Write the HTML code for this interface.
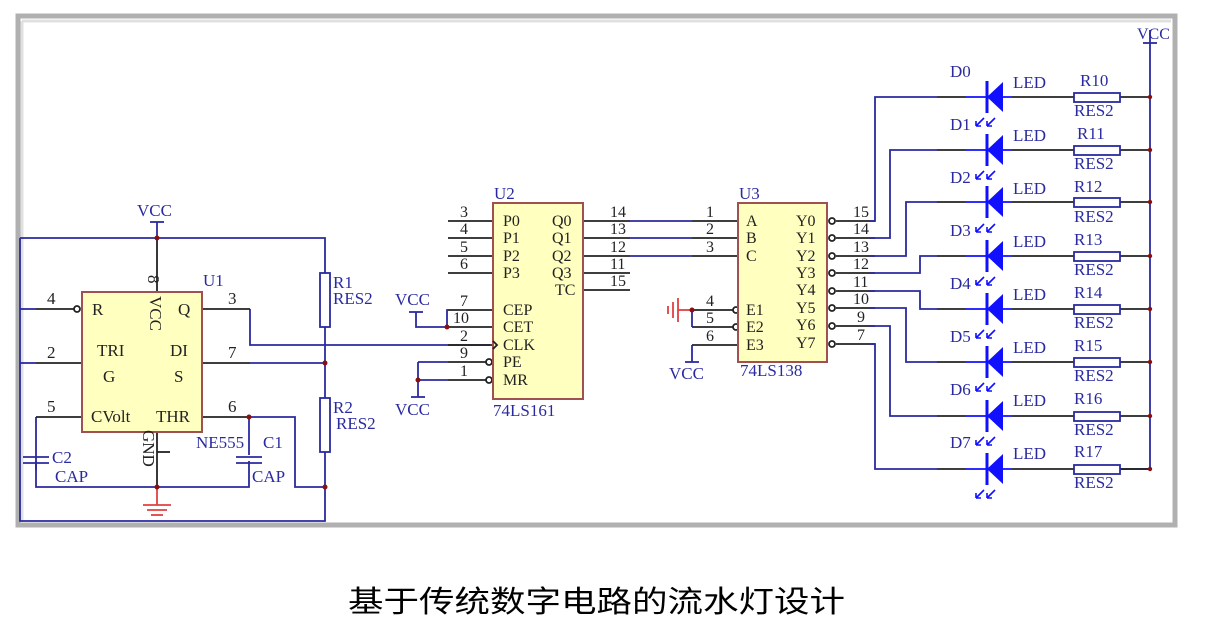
<!DOCTYPE html>
<html><head><meta charset="utf-8"><style>
html,body{margin:0;padding:0;background:#fff;width:1206px;height:644px;overflow:hidden}
svg{display:block}
text{font-family:"Liberation Serif",serif;}
.b{fill:#2a2aa0}
.k{fill:#222}
</style></head><body>
<svg width="1206" height="644" viewBox="0 0 1206 644">
<!-- frame -->
<rect x="18" y="16" width="1157" height="509" fill="#fff" stroke="#b0b0b0" stroke-width="5"/>
<line x1="22" y1="21" x2="1171" y2="21" stroke="#e0e0e0" stroke-width="3"/>
<line x1="22" y1="21" x2="22" y2="521" stroke="#e0e0e0" stroke-width="3"/>

<g fill="none" stroke-width="1.8">
<g stroke="#2a2aa0">
<polyline points="20,238 325,238 325,273"/>
<polyline points="20,238 20,521 325,521 325,452"/>
<line x1="157" y1="222" x2="157" y2="238"/>
<line x1="150" y1="222" x2="164" y2="222"/>
<line x1="20" y1="309" x2="36" y2="309"/>
<line x1="20" y1="363" x2="36" y2="363"/>
<polyline points="250,309 250,345 490,345"/>
<line x1="250" y1="363" x2="325" y2="363"/>
<polyline points="249,417 295,417 295,487 325,487"/>
<line x1="325" y1="327" x2="325" y2="398"/>
<polyline points="36,417 36,487 249,487 249,461"/>
<line x1="249" y1="417" x2="249" y2="455"/>
<line x1="36" y1="461" x2="36" y2="470"/>
<line x1="236" y1="457" x2="262" y2="457"/><line x1="236" y1="463" x2="262" y2="463"/>
<line x1="23" y1="457" x2="49" y2="457"/><line x1="23" y1="463" x2="49" y2="463"/>
</g>
<rect x="320" y="273" width="10" height="54" stroke="#2a2aa0" fill="#fff"/>
<rect x="320" y="398" width="10" height="54" stroke="#2a2aa0" fill="#fff"/>
<g stroke="#222">
<line x1="157" y1="238" x2="157" y2="292"/>
<line x1="36" y1="309" x2="74" y2="309"/>
<line x1="36" y1="363" x2="82" y2="363"/>
<line x1="36" y1="417" x2="82" y2="417"/>
<line x1="202" y1="309" x2="250" y2="309"/>
<line x1="202" y1="363" x2="250" y2="363"/>
<line x1="202" y1="417" x2="249" y2="417"/>
<line x1="157" y1="432" x2="157" y2="487"/>
<line x1="157" y1="452" x2="170" y2="452"/>
</g>
<circle cx="77" cy="309" r="3" stroke="#222" fill="#fff"/>
<rect x="82" y="292" width="120" height="140" fill="#ffffc0" stroke="#a05050" stroke-width="2"/>
<g stroke="#e04040">
<line x1="157" y1="487" x2="157" y2="505"/>
<line x1="143" y1="505" x2="171" y2="505"/>
<line x1="147" y1="510" x2="167" y2="510"/>
<line x1="151" y1="515" x2="163" y2="515"/>
</g>

<g stroke="#222">
<line x1="448" y1="221" x2="493" y2="221"/>
<line x1="448" y1="238" x2="493" y2="238"/>
<line x1="448" y1="256" x2="493" y2="256"/>
<line x1="448" y1="273" x2="493" y2="273"/>
<line x1="448" y1="310" x2="493" y2="310"/>
<line x1="448" y1="327" x2="493" y2="327"/>
<line x1="448" y1="345" x2="493" y2="345"/>
<line x1="448" y1="362" x2="486" y2="362"/>
<line x1="448" y1="380" x2="486" y2="380"/>
<line x1="583" y1="221" x2="630" y2="221"/>
<line x1="583" y1="238" x2="630" y2="238"/>
<line x1="583" y1="256" x2="630" y2="256"/>
<line x1="583" y1="273" x2="630" y2="273"/>
<line x1="583" y1="290" x2="630" y2="290"/>
<line x1="692" y1="221" x2="738" y2="221"/>
<line x1="692" y1="238" x2="738" y2="238"/>
<line x1="692" y1="256" x2="738" y2="256"/>
<line x1="692" y1="310" x2="733" y2="310"/>
<line x1="692" y1="327" x2="733" y2="327"/>
<line x1="692" y1="345" x2="738" y2="345"/>
</g>
<g stroke="#2a2aa0">
<line x1="630" y1="221" x2="692" y2="221"/>
<line x1="630" y1="238" x2="692" y2="238"/>
<line x1="630" y1="256" x2="692" y2="256"/>
<polyline points="448,310 447,310 447,327 448,327"/>
<polyline points="416,312 416,327 448,327"/>
<line x1="409" y1="312" x2="423" y2="312"/>
<polyline points="418,362 418,380 448,380"/>
<line x1="448" y1="362" x2="418" y2="362"/>
<line x1="418" y1="380" x2="418" y2="397"/>
<line x1="411" y1="397" x2="425" y2="397"/>
<polyline points="692,327 692,310"/>
<polyline points="692,345 692,362"/>
<line x1="685" y1="362" x2="699" y2="362"/>
</g>
<circle cx="489" cy="362" r="3" stroke="#222" fill="#fff"/>
<circle cx="489" cy="380" r="3" stroke="#222" fill="#fff"/>
<rect x="493" y="203" width="90" height="196" fill="#ffffc0" stroke="#a05050" stroke-width="2"/>
<polyline points="493,341 497,345 493,349" stroke="#222"/>
<g stroke="#e04040">
<line x1="692" y1="310" x2="678" y2="310"/>
<line x1="678" y1="298" x2="678" y2="322"/>
<line x1="673" y1="302" x2="673" y2="318"/>
<line x1="668" y1="306" x2="668" y2="314"/>
</g>
<circle cx="736" cy="310" r="3" stroke="#222" fill="#fff"/>
<circle cx="736" cy="327" r="3" stroke="#222" fill="#fff"/>
<rect x="738" y="203" width="89" height="159" fill="#ffffc0" stroke="#a05050" stroke-width="2"/>

<g stroke="#222">
<line x1="836" y1="221" x2="875" y2="221"/>
<line x1="836" y1="238" x2="875" y2="238"/>
<line x1="836" y1="256" x2="875" y2="256"/>
<line x1="836" y1="273" x2="875" y2="273"/>
<line x1="836" y1="291" x2="875" y2="291"/>
<line x1="836" y1="308" x2="875" y2="308"/>
<line x1="836" y1="326" x2="875" y2="326"/>
<line x1="836" y1="344" x2="875" y2="344"/>
</g>
<g stroke="#222" fill="#fff">
<circle cx="832" cy="221" r="3"/><circle cx="832" cy="238" r="3"/><circle cx="832" cy="256" r="3"/><circle cx="832" cy="273" r="3"/>
<circle cx="832" cy="291" r="3"/><circle cx="832" cy="308" r="3"/><circle cx="832" cy="326" r="3"/><circle cx="832" cy="344" r="3"/>
</g>
<g stroke="#2a2aa0">
<polyline points="870,221 875,221 875,97 937,97"/>
<polyline points="870,238 890,238 890,150 937,150"/>
<polyline points="870,256 906,256 906,202 937,202"/>
<polyline points="870,273 920,273 920,256 937,256"/>
<polyline points="870,291 920,291 920,309 937,309"/>
<polyline points="870,308 906,308 906,362 937,362"/>
<polyline points="870,326 890,326 890,416 937,416"/>
<polyline points="870,344 875,344 875,469 937,469"/>
<polyline points="1150,30 1150,469 1120,469"/>
<line x1="1143" y1="43" x2="1157" y2="43"/>
</g>
<g stroke="#222">
<line x1="937" y1="97" x2="966" y2="97"/><line x1="1012" y1="97" x2="1074" y2="97"/><line x1="1120" y1="97" x2="1150" y2="97"/>
<line x1="937" y1="150" x2="966" y2="150"/><line x1="1012" y1="150" x2="1074" y2="150"/><line x1="1120" y1="150" x2="1150" y2="150"/>
<line x1="937" y1="202" x2="966" y2="202"/><line x1="1012" y1="202" x2="1074" y2="202"/><line x1="1120" y1="202" x2="1150" y2="202"/>
<line x1="937" y1="256" x2="966" y2="256"/><line x1="1012" y1="256" x2="1074" y2="256"/><line x1="1120" y1="256" x2="1150" y2="256"/>
<line x1="937" y1="309" x2="966" y2="309"/><line x1="1012" y1="309" x2="1074" y2="309"/><line x1="1120" y1="309" x2="1150" y2="309"/>
<line x1="937" y1="362" x2="966" y2="362"/><line x1="1012" y1="362" x2="1074" y2="362"/><line x1="1120" y1="362" x2="1150" y2="362"/>
<line x1="937" y1="416" x2="966" y2="416"/><line x1="1012" y1="416" x2="1074" y2="416"/><line x1="1120" y1="416" x2="1150" y2="416"/>
<line x1="937" y1="469" x2="966" y2="469"/><line x1="1012" y1="469" x2="1074" y2="469"/><line x1="1120" y1="469" x2="1150" y2="469"/>
</g>
</g>
<defs>
<g id="led">
<line x1="-21" y1="0" x2="25" y2="0" stroke="#1010ff" stroke-width="1.8"/>
<line x1="0" y1="-16" x2="0" y2="16" stroke="#1010ff" stroke-width="3"/>
<polygon points="0,0 16,-15 16,15" fill="#1010ff"/>
<rect x="87" y="-4" width="46" height="9" fill="#fff" stroke="#2a2aa0" stroke-width="1.8"/>
<circle cx="163" cy="0" r="2.2" fill="#8a1010"/>
</g>
<g id="arr">
<path d="M0,0 l-8,8 M-8,8 l0,-5 M-8,8 l5,0 M11,0 l-8,8 M3,8 l0,-5 M3,8 l5,0" stroke="#1010ff" stroke-width="1.6" fill="none"/>
</g>
</defs>
<use href="#led" x="987" y="97"/><use href="#led" x="987" y="150"/><use href="#led" x="987" y="202"/><use href="#led" x="987" y="256"/>
<use href="#led" x="987" y="309"/><use href="#led" x="987" y="362"/><use href="#led" x="987" y="416"/><use href="#led" x="987" y="469"/>
<use href="#arr" x="984" y="118"/><use href="#arr" x="984" y="171"/><use href="#arr" x="984" y="224"/><use href="#arr" x="984" y="277"/>
<use href="#arr" x="984" y="330"/><use href="#arr" x="984" y="383"/><use href="#arr" x="984" y="437"/><use href="#arr" x="984" y="490"/>
<g fill="#8a1010">
<circle cx="157" cy="238" r="2.5"/><circle cx="325" cy="363" r="2.5"/><circle cx="249" cy="417" r="2.5"/>
<circle cx="325" cy="487" r="2.5"/><circle cx="157" cy="487" r="2.5"/><circle cx="447" cy="327" r="2.5"/>
<circle cx="418" cy="380" r="2.5"/><circle cx="692" cy="310" r="2.5"/>
</g>

<g font-size="17" class="b">
<text x="137" y="216">VCC</text>
<text x="203" y="286">U1</text>
<text x="333" y="288">R1</text><text x="333" y="304">RES2</text>
<text x="333" y="413">R2</text><text x="336" y="429">RES2</text>
<text x="196" y="448">NE555</text>
<text x="263" y="448">C1</text><text x="252" y="482">CAP</text>
<text x="52" y="463">C2</text><text x="55" y="482">CAP</text>
<text x="395" y="305">VCC</text>
<text x="395" y="415">VCC</text>
<text x="494" y="199">U2</text>
<text x="493" y="416">74LS161</text>
<text x="739" y="199">U3</text>
<text x="740" y="376">74LS138</text>
<text x="669" y="379">VCC</text>
<text x="1137" y="39" font-size="16">VCC</text>
</g>
<g font-size="17" class="k">
<text x="47" y="304">4</text><text x="47" y="358">2</text><text x="47" y="412">5</text>
<text x="228" y="304">3</text><text x="228" y="358">7</text><text x="228" y="412">6</text>
<text x="156" y="283" transform="rotate(90 156 275)">8</text>
<text x="92" y="315">R</text><text x="97" y="356">TRI</text><text x="103" y="382">G</text><text x="91" y="422">CVolt</text>
<text x="178" y="315">Q</text><text x="170" y="356">DI</text><text x="174" y="382">S</text><text x="156" y="422">THR</text>
<text x="150" y="296" transform="rotate(90 150 296)">VCC</text>
<text x="143" y="430" transform="rotate(90 143 430)">GND</text>
<g font-size="16">
<text x="460" y="217">3</text><text x="460" y="234">4</text><text x="460" y="252">5</text><text x="460" y="269">6</text>
<text x="460" y="306">7</text><text x="453" y="323">10</text><text x="460" y="341">2</text><text x="460" y="358">9</text><text x="460" y="376">1</text>
<text x="503" y="226">P0</text><text x="503" y="243">P1</text><text x="503" y="261">P2</text><text x="503" y="278">P3</text>
<text x="503" y="315">CEP</text><text x="503" y="332">CET</text><text x="503" y="350">CLK</text><text x="503" y="367">PE</text><text x="503" y="385">MR</text>
<text x="552" y="226">Q0</text><text x="552" y="243">Q1</text><text x="552" y="261">Q2</text><text x="552" y="278">Q3</text><text x="555" y="295">TC</text>
<text x="610" y="217">14</text><text x="610" y="234">13</text><text x="610" y="252">12</text><text x="610" y="269">11</text><text x="610" y="286">15</text>
<text x="706" y="217">1</text><text x="706" y="234">2</text><text x="706" y="252">3</text>
<text x="706" y="306">4</text><text x="706" y="323">5</text><text x="706" y="341">6</text>
<text x="746" y="226">A</text><text x="746" y="243">B</text><text x="746" y="261">C</text>
<text x="746" y="315">E1</text><text x="746" y="332">E2</text><text x="746" y="350">E3</text>
<text x="796" y="226">Y0</text><text x="796" y="243">Y1</text><text x="796" y="261">Y2</text><text x="796" y="278">Y3</text>
<text x="796" y="295">Y4</text><text x="796" y="313">Y5</text><text x="796" y="330">Y6</text><text x="796" y="348">Y7</text>
<text x="853" y="217">15</text><text x="853" y="234">14</text><text x="853" y="252">13</text><text x="853" y="269">12</text>
<text x="853" y="287">11</text><text x="853" y="304">10</text><text x="857" y="322">9</text><text x="857" y="340">7</text>
</g>
</g>
<g font-size="17" class="b">
<text x="950" y="77">D0</text>
<text x="950" y="130">D1</text><text x="950" y="183">D2</text><text x="950" y="236">D3</text>
<text x="950" y="289">D4</text><text x="950" y="342">D5</text><text x="950" y="395">D6</text><text x="950" y="448">D7</text>
<text x="1013" y="88">LED</text><text x="1013" y="141">LED</text><text x="1013" y="194">LED</text><text x="1013" y="247">LED</text>
<text x="1013" y="300">LED</text><text x="1013" y="353">LED</text><text x="1013" y="406">LED</text><text x="1013" y="459">LED</text>
<text x="1080" y="86">R10</text><text x="1077" y="139">R11</text><text x="1074" y="192">R12</text><text x="1074" y="245">R13</text>
<text x="1074" y="298">R14</text><text x="1074" y="351">R15</text><text x="1074" y="404">R16</text><text x="1074" y="457">R17</text>
<text x="1074" y="116">RES2</text><text x="1074" y="169">RES2</text><text x="1074" y="222">RES2</text><text x="1074" y="275">RES2</text>
<text x="1074" y="328">RES2</text><text x="1074" y="381">RES2</text><text x="1074" y="435">RES2</text><text x="1074" y="488">RES2</text>
</g>

<text x="348" y="612" font-size="30" textLength="497" lengthAdjust="spacingAndGlyphs" style="font-family:'Liberation Sans','Noto Sans CJK SC',sans-serif" fill="#000">基于传统数字电路的流水灯设计</text>
</svg>
</body></html>
